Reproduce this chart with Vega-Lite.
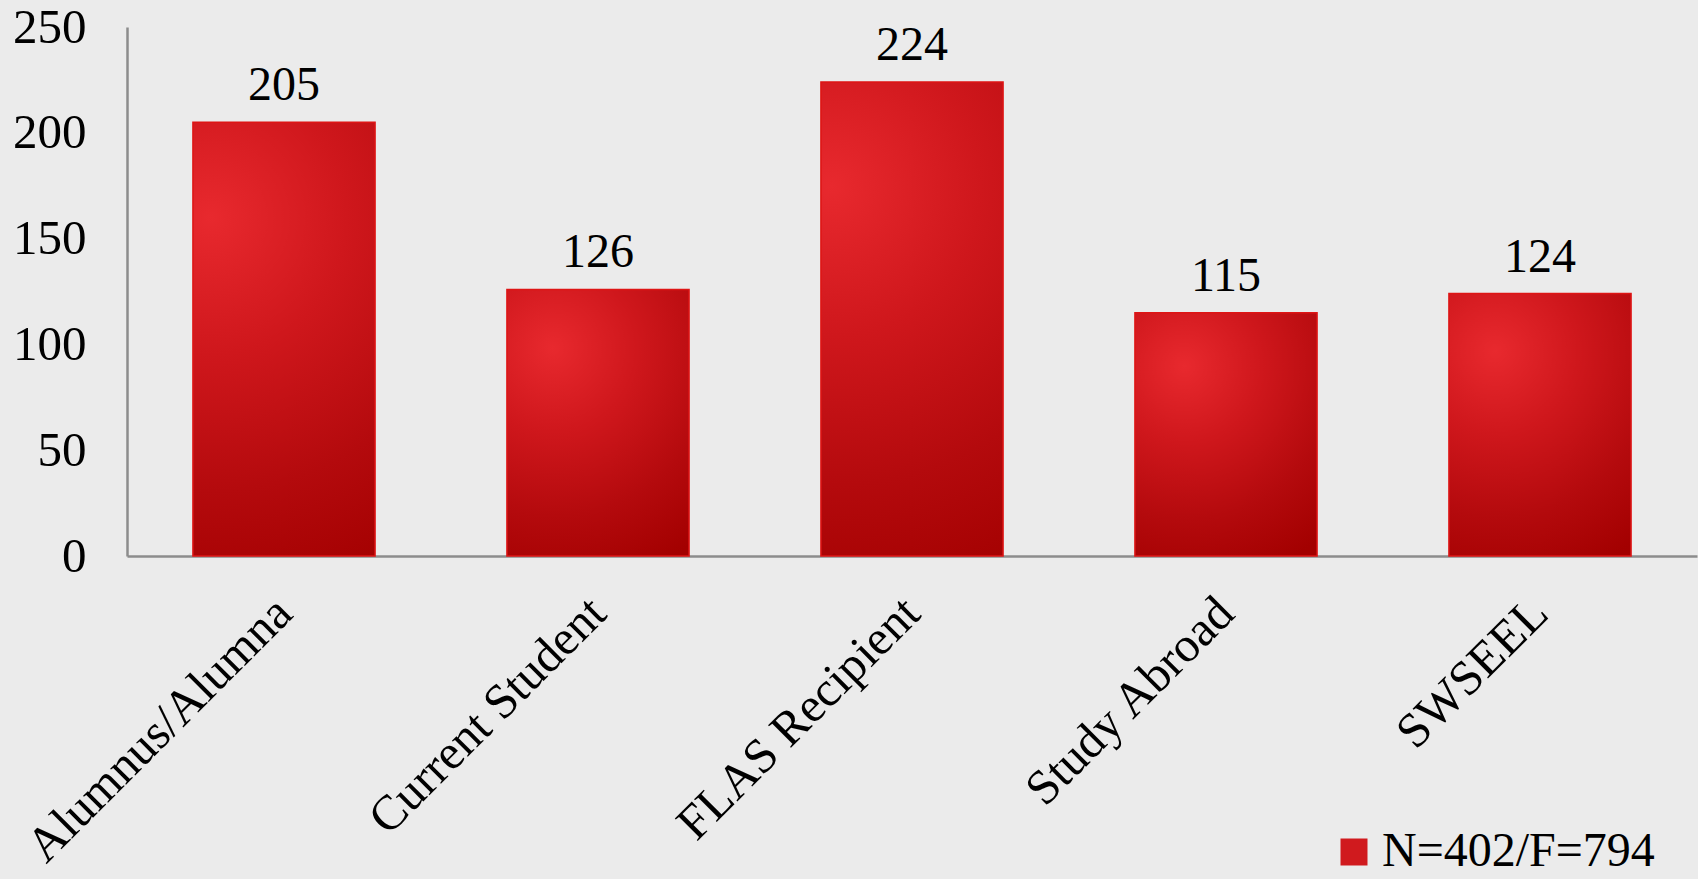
{
  "$schema": "https://vega.github.io/schema/vega-lite/v6.json",
  "width": 1570,
  "height": 529,
  "autosize": {"type": "none"},
  "padding": {"left": 127, "top": 27, "right": 1, "bottom": 323},
  "background": "#ebebeb",
  "config": {
    "view": {"stroke": null},
    "font": "Liberation Serif",
    "axis": {"grid": false, "ticks": false, "domainColor": "#8c8c8c", "domainWidth": 2.5, "labelColor": "#000000", "labelFont": "Liberation Serif", "labelFontSize": 49, "labelLimit": 0, "title": null}
  },
  "data": {
    "values": [
      {"group": "Alumnus/Alumna", "count": 205, "series": "N=402/F=794"},
      {"group": "Current Student", "count": 126, "series": "N=402/F=794"},
      {"group": "FLAS Recipient", "count": 224, "series": "N=402/F=794"},
      {"group": "Study Abroad", "count": 115, "series": "N=402/F=794"},
      {"group": "SWSEEL", "count": 124, "series": "N=402/F=794"}
    ]
  },
  "encoding": {
    "x": {
      "field": "group",
      "type": "nominal",
      "sort": null,
      "scale": {"paddingInner": 0.42, "paddingOuter": 0.21},
      "axis": {"labelAngle": -45, "labelAlign": "right", "labelBaseline": "middle", "labelPadding": 49, "labelLimit": 0, "labelOverlap": false, "domainColor": "#8c8c8c"}
    },
    "y": {
      "field": "count",
      "type": "quantitative",
      "scale": {"domain": [0, 250], "nice": false},
      "axis": {"values": [0, 50, 100, 150, 200, 250], "labelPadding": 41, "labelBaseline": "middle"}
    }
  },
  "layer": [
    {
      "mark": {"type": "bar"},
      "encoding": {
        "color": {
          "field": "series",
          "type": "nominal",
          "scale": {"range": ["#d01a1e"]},
          "legend": {
            "title": null,
            "orient": "none",
            "legendX": 1203,
            "legendY": 801,
            "symbolType": "square",
            "symbolSize": 729,
            "symbolStrokeWidth": 0,
            "labelFont": "Liberation Serif",
            "labelFontSize": 48,
            "labelColor": "#000000",
            "labelLimit": 0,
            "labelOffset": 4,
            "padding": 0
          }
        }
      }
    },
    {
      "mark": {
        "type": "bar",
        "stroke": "#de1515",
        "strokeWidth": 1.5,
        "fill": {
          "gradient": "radial",
          "x1": 0.33, "y1": 0.22, "r1": 0,
          "x2": 0.33, "y2": 0.22, "r2": 0.9,
          "stops": [
            {"offset": 0, "color": "#e8292e"},
            {"offset": 0.35, "color": "#cf171c"},
            {"offset": 0.7, "color": "#b40a0d"},
            {"offset": 1, "color": "#a30000"}
          ]
        }
      }
    },
    {
      "mark": {"type": "text", "baseline": "alphabetic", "dy": -22, "font": "Liberation Serif", "fontSize": 48, "color": "#000000"},
      "encoding": {"text": {"field": "count", "type": "quantitative"}}
    }
  ]
}
